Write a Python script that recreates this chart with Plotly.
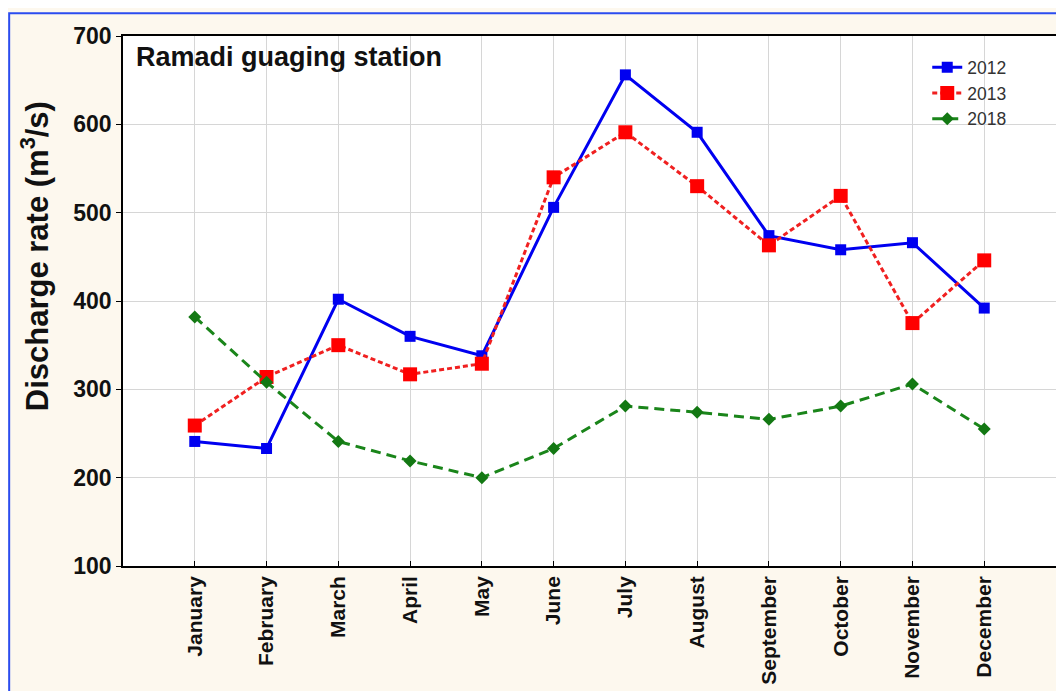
import plotly.graph_objects as go

months = ["January", "February", "March", "April", "May", "June", "July",
          "August", "September", "October", "November", "December"]
q2012 = [241, 233, 402, 360, 338, 506, 656, 591, 474, 458, 466, 392]
q2013 = [259, 314, 350, 317, 329, 540, 591, 530, 463, 519, 375, 446]
q2018 = [382, 308, 241, 219, 200, 233, 281, 274, 266, 281, 306, 255]
y_ticks = [100, 200, 300, 400, 500, 600, 700]

FONT = "Arial, Liberation Sans, sans-serif"

fig = go.Figure()

fig.add_trace(go.Scatter(
    x=months, y=q2012, name="2012", mode="lines+markers",
    line=dict(color="#0000f0", width=3),
    marker=dict(symbol="square", size=11, color="#0000f0"),
))
fig.add_trace(go.Scatter(
    x=months, y=q2013, name="2013", mode="lines+markers",
    line=dict(color="#f02020", width=3, dash="5px,3px"),
    marker=dict(symbol="square", size=14, color="#ff0000"),
))
fig.add_trace(go.Scatter(
    x=months, y=q2018, name="2018", mode="lines+markers",
    line=dict(color="#1a851a", width=3, dash="10px,6px"),
    marker=dict(symbol="diamond", size=10, color="#137813"),
))

# page body adds 8px margin, so figure is 8px smaller than the window
fig.update_layout(
    width=1056, height=683,
    margin=dict(l=115, r=1, t=28, b=125),
    paper_bgcolor="#fdf8ee",
    plot_bgcolor="white",
    font=dict(family=FONT, color="#111111"),
    showlegend=True,
    legend=dict(
        x=0.862, y=0.975, xanchor="left", yanchor="top",
        bgcolor="rgba(0,0,0,0)",
        font=dict(size=17.5, color="#333333"),
        tracegroupgap=0, itemwidth=30,
    ),
)

fig.update_xaxes(
    type="category",
    range=[-1, 12],
    showgrid=True, gridcolor="#d6d6d6", gridwidth=1,
    showline=True, linecolor="black", linewidth=1.5, mirror=True,
    ticks="inside", ticklen=5, tickcolor="black",
    tickangle=-90,
    tickfont=dict(size=21, family=FONT, weight="bold", color="#111111"),
)
fig.update_yaxes(
    range=[100, 700],
    tickvals=y_ticks,
    showgrid=True, gridcolor="#d6d6d6", gridwidth=1,
    showline=True, linecolor="black", linewidth=1.5, mirror="ticks",
    ticks="outside", ticklen=5, tickcolor="black",
    tickfont=dict(size=23, family=FONT, weight="bold", color="#111111"),
    zeroline=False,
)

# y axis title sits above the plot centre in the original, so use an annotation
fig.add_annotation(
    text="<b>Discharge rate (m<sup>3</sup>/s)</b>",
    xref="paper", yref="paper", x=-0.094, y=0.585,
    xanchor="center", yanchor="middle", textangle=-90, showarrow=False,
    font=dict(size=31, family=FONT, color="#111111"),
)

fig.add_annotation(
    text="<b>Ramadi guaging station</b>",
    xref="paper", yref="paper", x=0.012, y=0.96,
    xanchor="left", yanchor="middle", showarrow=False,
    font=dict(size=27, family=FONT, color="#111111"),
)

# blue frame around the whole chart
fig.add_shape(
    type="rect", xref="paper", yref="paper",
    x0=-0.122, y0=-0.25, x1=1.02, y1=1.043,
    line=dict(color="#2b4cf0", width=2), fillcolor="rgba(0,0,0,0)",
    layer="below",
)

fig.write_html("out.html")
